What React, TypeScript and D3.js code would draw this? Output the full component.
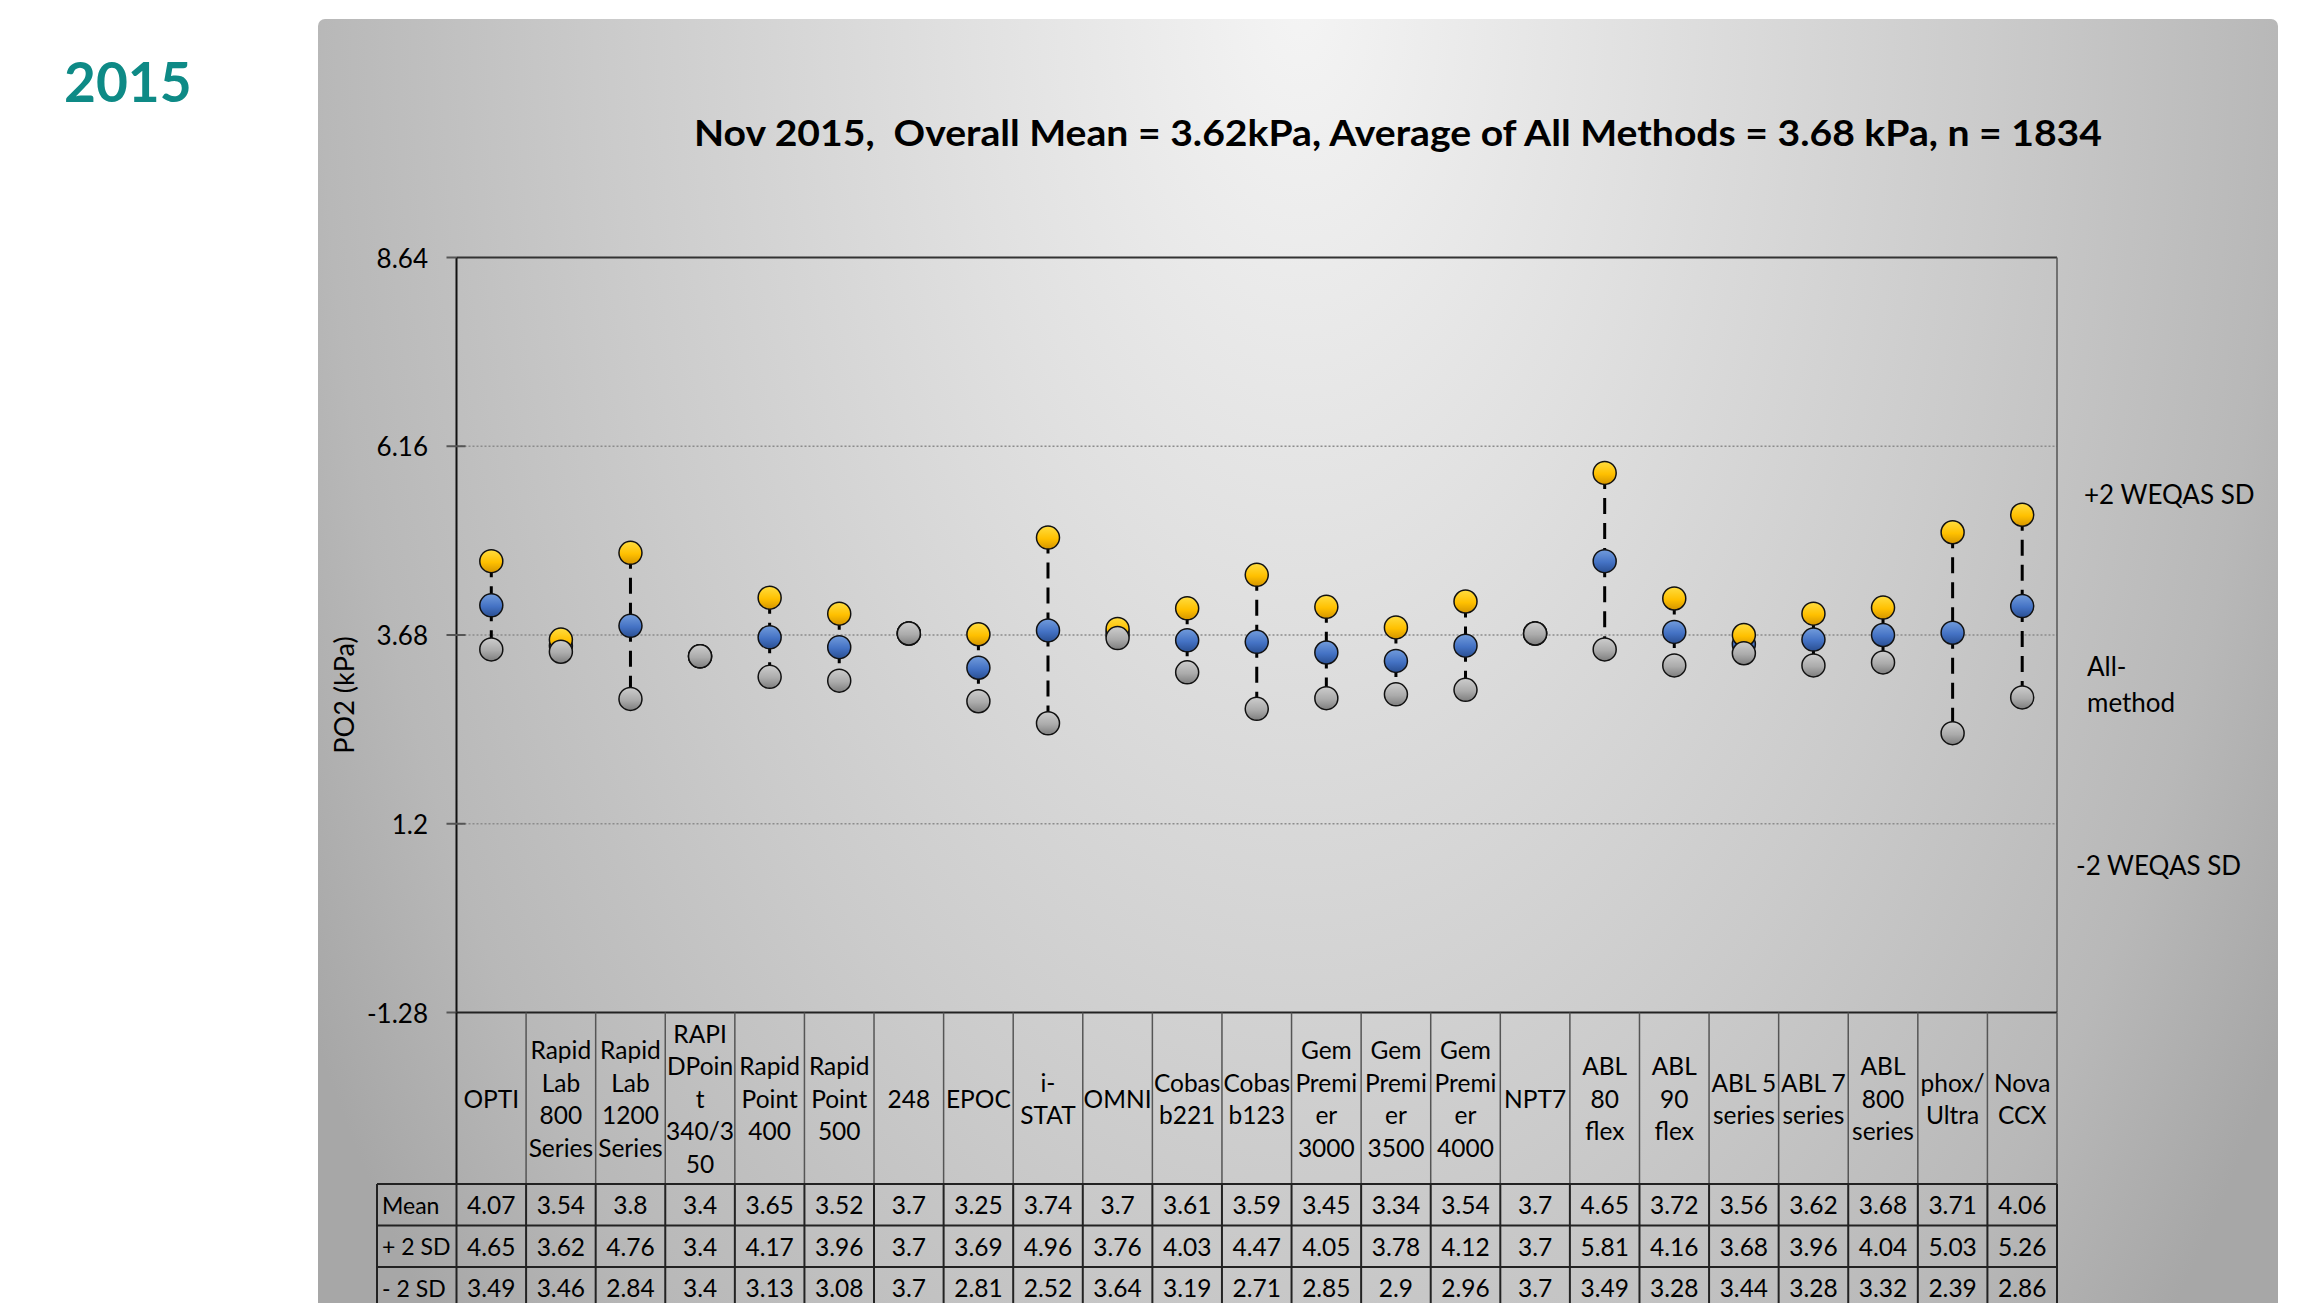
import React from "react";
import * as d3 from "d3";

const categories: string[][] = [
  ["OPTI"],
  ["Rapid", "Lab", "800", "Series"],
  ["Rapid", "Lab", "1200", "Series"],
  ["RAPI", "DPoin", "t", "340/3", "50"],
  ["Rapid", "Point", "400"],
  ["Rapid", "Point", "500"],
  ["248"],
  ["EPOC"],
  ["i-", "STAT"],
  ["OMNI"],
  ["Cobas", "b221"],
  ["Cobas", "b123"],
  ["Gem", "Premi", "er", "3000"],
  ["Gem", "Premi", "er", "3500"],
  ["Gem", "Premi", "er", "4000"],
  ["NPT7"],
  ["ABL", "80", "flex"],
  ["ABL", "90", "flex"],
  ["ABL 5", "series"],
  ["ABL 7", "series"],
  ["ABL", "800", "series"],
  ["phox/", "Ultra"],
  ["Nova", "CCX"],
];

const meanValues = [4.07, 3.54, 3.8, 3.4, 3.65, 3.52, 3.7, 3.25, 3.74, 3.7, 3.61, 3.59, 3.45, 3.34, 3.54, 3.7, 4.65, 3.72, 3.56, 3.62, 3.68, 3.71, 4.06];
const plus2SD = [4.65, 3.62, 4.76, 3.4, 4.17, 3.96, 3.7, 3.69, 4.96, 3.76, 4.03, 4.47, 4.05, 3.78, 4.12, 3.7, 5.81, 4.16, 3.68, 3.96, 4.04, 5.03, 5.26];
const minus2SD = [3.49, 3.46, 2.84, 3.4, 3.13, 3.08, 3.7, 2.81, 2.52, 3.64, 3.19, 2.71, 2.85, 2.9, 2.96, 3.7, 3.49, 3.28, 3.44, 3.28, 3.32, 2.39, 2.86];

const yTicks = [8.64, 6.16, 3.68, 1.2, -1.28];
const rowLabels = ["Mean", "+ 2 SD", "- 2 SD"];
const titleText = "Nov 2015,  Overall Mean = 3.62kPa, Average of All Methods = 3.68 kPa, n = 1834";
const yearText = "2015";
const yAxisTitle = "PO2 (kPa)";

const W = 2302;
const H = 1303;
const FONT = "Lato, 'Open Sans', sans-serif";

export default function App() {
  const plotLeft = 456.5;
  const plotRight = 2057;
  const plotTop = 257.5;
  const plotBottom = 1012.5;

  const x = d3
    .scaleBand<number>()
    .domain(d3.range(categories.length))
    .range([plotLeft, plotRight])
    .paddingInner(0)
    .paddingOuter(0);
  const y = d3.scaleLinear().domain([-1.28, 8.64]).range([plotBottom, plotTop]);

  const bw = x.bandwidth();
  const cx = (i: number) => (x(i) as number) + bw / 2;

  const headerTop = plotBottom;
  const headerBottom = 1184;
  const rowH = 41.5;
  const rowTops = [headerBottom, headerBottom + rowH, headerBottom + 2 * rowH];
  const labelColLeft = 377;
  const tableSeries = [meanValues, plus2SD, minus2SD];

  const r = 11.5;

  return (
    <svg
      width={W}
      height={H}
      style={{ position: "absolute", left: 0, top: 0, background: "#fff" }}
      fontFamily={FONT}
    >
      <defs>
        <radialGradient
          id="bg"
          gradientUnits="userSpaceOnUse"
          cx={1300}
          cy={0}
          r={1150}
          gradientTransform="translate(1300 0) scale(1 1.75) translate(-1300 0)"
        >
          <stop offset="0" stopColor="#F4F4F4" />
          <stop offset="0.3" stopColor="#E0E0E0" />
          <stop offset="0.6" stopColor="#CBCBCB" />
          <stop offset="0.85" stopColor="#B8B8B8" />
          <stop offset="1" stopColor="#A7A7A7" />
        </radialGradient>
        <linearGradient id="gYellow" x1="0" y1="0" x2="0" y2="1">
          <stop offset="0" stopColor="#FFDD40" />
          <stop offset="0.55" stopColor="#FFC000" />
          <stop offset="1" stopColor="#D49500" />
        </linearGradient>
        <linearGradient id="gBlue" x1="0" y1="0" x2="0" y2="1">
          <stop offset="0" stopColor="#729CDC" />
          <stop offset="0.55" stopColor="#4472C4" />
          <stop offset="1" stopColor="#2A4F92" />
        </linearGradient>
        <linearGradient id="gGray" x1="0" y1="0" x2="0" y2="1">
          <stop offset="0" stopColor="#CDCDCD" />
          <stop offset="0.55" stopColor="#ABABAB" />
          <stop offset="1" stopColor="#7E7E7E" />
        </linearGradient>
      </defs>

      {/* Year label */}
      <text x={64} y={102} fontSize={55} fontWeight={700} fill="#0E8A86">
        {yearText}
      </text>

      {/* Panel background */}
      <rect x={318} y={19} width={1960} height={1300} rx={7} ry={7} fill="url(#bg)" />

      {/* Title */}
      <text
        x={694}
        y={146}
        fontSize={37}
        fontWeight={700}
        fill="#000"
        textLength={1408}
        lengthAdjust="spacingAndGlyphs"
        style={{ whiteSpace: "pre" }}
      >
        {titleText}
      </text>

      {/* Gridlines */}
      {yTicks
        .filter((t) => t !== 8.64 && t !== -1.28)
        .map((t) => (
          <line
            key={"g" + t}
            x1={plotLeft}
            x2={plotRight}
            y1={y(t)}
            y2={y(t)}
            stroke="#8C8C8C"
            strokeWidth={1.5}
            strokeDasharray="2 2"
          />
        ))}

      {/* Plot border top & right */}
      <line x1={plotLeft} x2={plotRight} y1={y(8.64)} y2={y(8.64)} stroke="#333" strokeWidth={2} />
      <line x1={plotRight} x2={plotRight} y1={plotTop} y2={plotBottom} stroke="#555" strokeWidth={1.5} />

      {/* Y axis */}
      <line x1={plotLeft} x2={plotLeft} y1={plotTop} y2={plotBottom} stroke="#111" strokeWidth={2} />
      {yTicks.map((t) => (
        <g key={"t" + t}>
          <line
            x1={plotLeft - 10}
            x2={t === 8.64 || t === -1.28 ? plotLeft : plotLeft + 9}
            y1={y(t)}
            y2={y(t)}
            stroke="#555"
            strokeWidth={2}
          />
          <text
            x={428}
            y={y(t)}
            textAnchor="end"
            dominantBaseline="central"
            fontSize={26}
            fill="#000"
          >
            {String(t)}
          </text>
        </g>
      ))}
      <text
        transform={`translate(343, 695) rotate(-90)`}
        textAnchor="middle"
        dominantBaseline="central"
        fontSize={27}
        fill="#000"
      >
        {yAxisTitle}
      </text>

      {/* Right labels */}
      <text x={2084} y={494} fontSize={26} dominantBaseline="central" fill="#000">
        +2 WEQAS SD
      </text>
      <text x={2087} y={666} fontSize={26} dominantBaseline="central" fill="#000">
        All-
      </text>
      <text x={2087} y={702} fontSize={26} dominantBaseline="central" fill="#000">
        method
      </text>
      <text x={2076} y={865} fontSize={26} dominantBaseline="central" fill="#000">
        -2 WEQAS SD
      </text>

      {/* Dashed connectors */}
      {categories.map((_, i) => (
        <g key={"c" + i}>
          <line
            x1={cx(i)}
            x2={cx(i)}
            y1={y(plus2SD[i])}
            y2={y(meanValues[i])}
            stroke="#000"
            strokeWidth={3}
            strokeDasharray="16 9"
          />
          <line
            x1={cx(i)}
            x2={cx(i)}
            y1={y(meanValues[i])}
            y2={y(minus2SD[i])}
            stroke="#000"
            strokeWidth={3}
            strokeDasharray="16 9"
          />
        </g>
      ))}

      {/* Markers: mean, +2SD, -2SD */}
      {meanValues.map((v, i) => (
        <circle key={"m" + i} cx={cx(i)} cy={y(v)} r={r} fill="url(#gBlue)" stroke="#111" strokeWidth={1.5} />
      ))}
      {plus2SD.map((v, i) => (
        <circle key={"p" + i} cx={cx(i)} cy={y(v)} r={r} fill="url(#gYellow)" stroke="#111" strokeWidth={1.5} />
      ))}
      {minus2SD.map((v, i) => (
        <circle key={"n" + i} cx={cx(i)} cy={y(v)} r={r} fill="url(#gGray)" stroke="#111" strokeWidth={1.5} />
      ))}

      {/* Table: header row */}
      <line x1={plotLeft} x2={plotRight} y1={headerTop} y2={headerTop} stroke="#222" strokeWidth={2} />
      {d3.range(categories.length + 1).map((i) => {
        const xx = i < categories.length ? (x(i) as number) : plotRight;
        return (
          <line
            key={"v" + i}
            x1={xx}
            x2={xx}
            y1={headerTop}
            y2={headerBottom}
            stroke={i === 0 ? "#111" : "#555"}
            strokeWidth={i === 0 ? 2 : 1.5}
          />
        );
      })}
      {categories.map((lines, i) => {
        const lh = 32.5;
        const mid = (headerTop + headerBottom) / 2;
        const start = mid - ((lines.length - 1) * lh) / 2;
        return (
          <text key={"h" + i} textAnchor="middle" fontSize={24.5} fill="#000">
            {lines.map((ln, k) => (
              <tspan key={k} x={cx(i)} y={start + k * lh} dominantBaseline="central">
                {ln}
              </tspan>
            ))}
          </text>
        );
      })}

      {/* Table: data rows */}
      {rowTops.map((rt, ri) => (
        <g key={"r" + ri}>
          <line x1={labelColLeft} x2={plotRight} y1={rt} y2={rt} stroke="#222" strokeWidth={2} />
          <text x={labelColLeft + 5} y={rt + rowH / 2} dominantBaseline="central" fontSize={23} fill="#000">
            {rowLabels[ri]}
          </text>
          {tableSeries[ri].map((v, i) => (
            <text
              key={i}
              x={cx(i)}
              y={rt + rowH / 2}
              textAnchor="middle"
              dominantBaseline="central"
              fontSize={24.5}
              fill="#000"
            >
              {String(v)}
            </text>
          ))}
        </g>
      ))}
      <line x1={labelColLeft} x2={plotRight} y1={rowTops[2] + rowH} y2={rowTops[2] + rowH} stroke="#222" strokeWidth={2} />
      <line x1={labelColLeft} x2={labelColLeft} y1={headerBottom} y2={H} stroke="#222" strokeWidth={2} />
      {d3.range(categories.length + 1).map((i) => {
        const xx = i < categories.length ? (x(i) as number) : plotRight;
        return (
          <line key={"dv" + i} x1={xx} x2={xx} y1={headerBottom} y2={H} stroke="#222" strokeWidth={2} />
        );
      })}
    </svg>
  );
}
